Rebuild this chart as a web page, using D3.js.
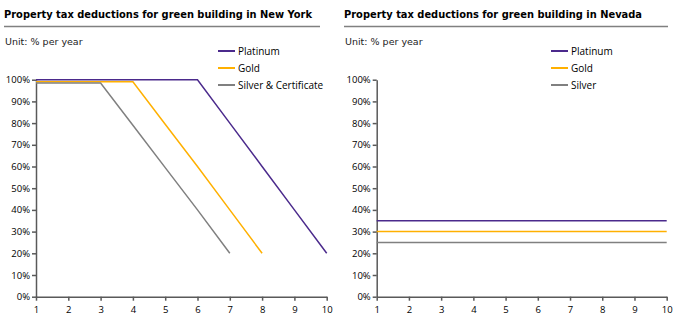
<!DOCTYPE html>
<html><head><meta charset="utf-8">
<script src="https://cdn.jsdelivr.net/npm/d3@7"></script>
<style>
body{margin:0;background:#fff;}
svg{display:block;}
</style></head>
<body>
<svg id="c" width="680" height="326"></svg>
<script>
const years = [1,2,3,4,5,6,7,8,9,10];
const yTicks = [0,10,20,30,40,50,60,70,80,90,100];

const nyPlatinum = [100,100,100,100,100,100,80,60,40,20];
const nyGold     = [99,99,99,99,79.5,60,40,20];
const nySilver   = [98.5,98.5,98.5,79,59.5,40,20];

const nvPlatinum = [35,35,35,35,35,35,35,35,35,35];
const nvGold     = [30,30,30,30,30,30,30,30,30,30];
const nvSilver   = [25,25,25,25,25,25,25,25,25,25];

const colors = {platinum:"#4b2a8c", gold:"#ffb000", silver:"#808080"};

const panels = [
  {x0:0, title:"Property tax deductions for green building in New York",
   series:[{name:"Platinum",v:nyPlatinum,c:colors.platinum},{name:"Gold",v:nyGold,c:colors.gold},{name:"Silver & Certificate",v:nySilver,c:colors.silver}]},
  {x0:340, title:"Property tax deductions for green building in Nevada",
   series:[{name:"Platinum",v:nvPlatinum,c:colors.platinum},{name:"Gold",v:nvGold,c:colors.gold},{name:"Silver",v:nvSilver,c:colors.silver}]}
];

const svg = d3.select("#c");
const font = "'DejaVu Sans', Verdana, sans-serif";
const tickFont = "'Open Sans', 'DejaVu Sans', sans-serif";

panels.forEach((p,i)=>{
  const g = svg.append("g").attr("transform",`translate(${p.x0},0)`);
  g.append("text").attr("x",4).attr("y",18).attr("font-family",font).attr("font-weight","bold")
    .attr("font-size",11).attr("fill","#000").attr("textLength", i===0?308:298).attr("lengthAdjust","spacingAndGlyphs").text(p.title);
  g.append("line").attr("x1",4).attr("x2",i===0?320:328).attr("y1",26.5).attr("y2",26.5).attr("stroke","#808080").attr("stroke-width",1.5);
  g.append("text").attr("x",5).attr("y",45).attr("font-family",font).attr("font-size",9.5).attr("fill","#222").text("Unit: % per year");

  const axX = i===0?36:36.7;
  const x = d3.scaleLinear().domain([1,10]).range([axX, 326.7]);
  const y = d3.scaleLinear().domain([0,100]).range([296.7, 79.7]);

  const yAx = g.append("g").attr("transform",`translate(${axX},0)`)
    .call(d3.axisLeft(y).tickValues(yTicks).tickFormat(d=>d+"%").tickSize(4).tickSizeOuter(0));
  const xAx = g.append("g").attr("transform",`translate(0,296.7)`)
    .call(d3.axisBottom(x).tickValues(years).tickFormat(d3.format("d")).tickSize(4).tickSizeOuter(0));
  [yAx,xAx].forEach(a=>{
    a.selectAll("path,line").attr("stroke","#595959").attr("stroke-width",1.5);
    a.selectAll("text").attr("font-family",tickFont).attr("font-size",9.5).attr("fill","#000");
  });
  yAx.selectAll("text").attr("x",-6);
  xAx.selectAll("text").attr("y",10);

  const line = d3.line().x((d,k)=>x(years[k])).y(d=>y(d));
  p.series.forEach(s=>{
    g.append("path").datum(s.v).attr("d",line).attr("fill","none").attr("stroke",s.c).attr("stroke-width",1.5);
  });

  const lx = i===0?218:211;
  p.series.forEach((s,k)=>{
    const ly = 51 + k*17;
    g.append("line").attr("x1",lx).attr("x2",lx+17).attr("y1",ly).attr("y2",ly).attr("stroke",s.c).attr("stroke-width",2);
    g.append("text").attr("x",lx+20).attr("y",ly+3.5).attr("font-family",tickFont).attr("font-size",10).attr("fill","#000").text(s.name);
  });
});
</script>
</body></html>
